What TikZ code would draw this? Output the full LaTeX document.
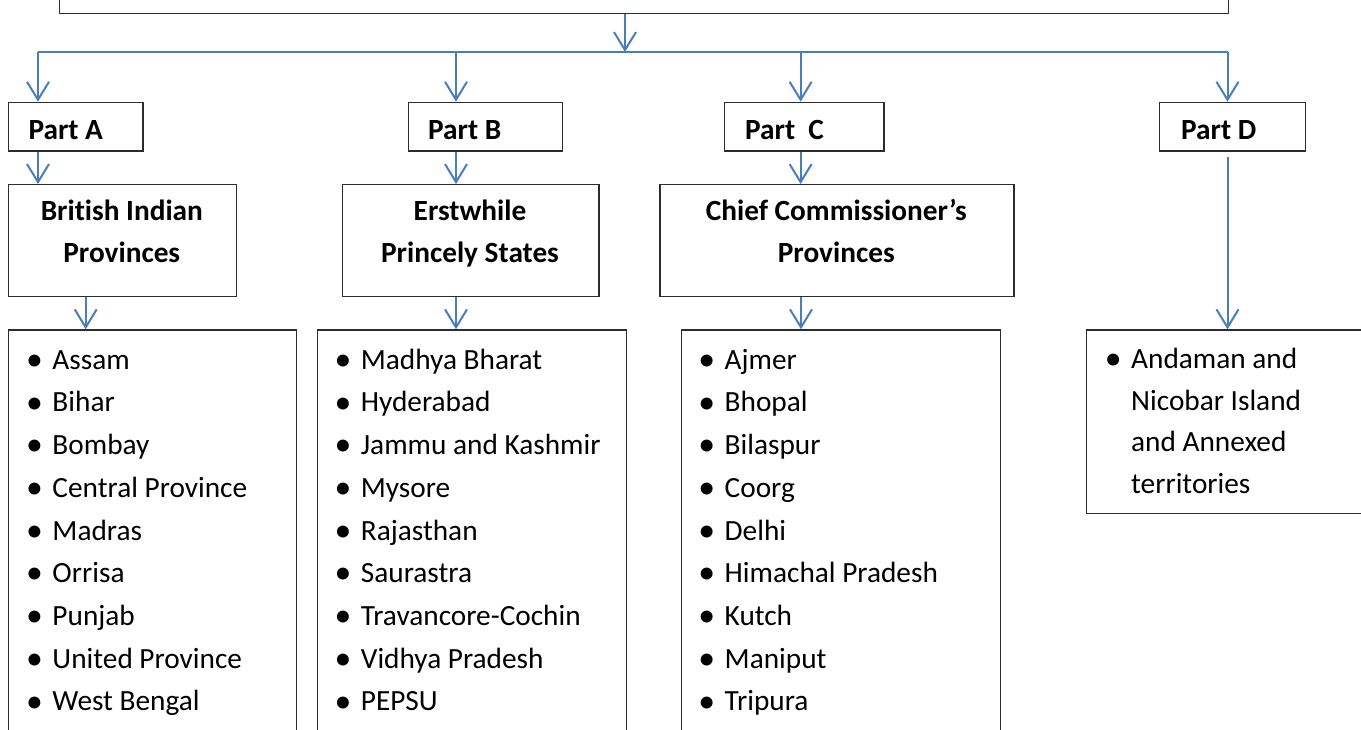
\documentclass[tikz,border=0pt]{standalone}
\usepackage{fontspec}
\usepackage{graphicx}
\setmainfont{Carlito}[Ligatures=NoCommon]
\usetikzlibrary{arrows.meta}

\definecolor{linkblue}{RGB}{74,126,187}
\definecolor{framegray}{RGB}{45,45,45}

% bullet item and continuation line inside a list
\newcommand\bul{\raisebox{-1.2pt}{\scalebox{1.15}{\textbullet}}}
\newcommand\itm[1]{\makebox[18pt][c]{\bul}\hspace{9pt}#1}
\newcommand\itmgo[1]{\hspace{27pt}#1}

\begin{document}
\begin{tikzpicture}[x=1pt,y=-1pt,
  frame/.style={draw=framegray, line width=1.4pt, inner sep=0pt, anchor=north west},
  link/.style={draw=linkblue, line width=2pt,
    -{Straight Barb[length=18pt,width=22pt,line width=2pt]}},
  bus/.style={draw=linkblue, line width=2pt},
  partlbl/.style={inner sep=0pt, anchor=base west,
    font=\fontsize{29.3pt}{34pt}\selectfont\bfseries},
  headlbl/.style={inner sep=0pt, anchor=base,
    font=\fontsize{29.3pt}{41.6pt}\selectfont\bfseries},
  listlbl/.style={inner sep=0pt, anchor=base west,
    font=\fontsize{29.3pt}{42.7pt}\selectfont},
]
\useasboundingbox (0,0) rectangle (1361,730);
\clip (0,0) rectangle (1361,730);

% ---- top box (its upper part lies above the page) ----
\node[frame, minimum width=1168.5pt, minimum height=42.7pt] (top) at (59,-30) {};

% ---- junction points ----
\coordinate (hub) at (625,52);
\coordinate (dA) at (38,52);
\coordinate (dB) at (456,52);
\coordinate (dC) at (800.6,52);
\coordinate (dD) at (1227.5,52);
\coordinate (xA) at (85.7,0);
\coordinate (xB) at (456,0);
\coordinate (xC) at (801,0);

% ---- part boxes ----
\node[frame, minimum width=134.5pt, minimum height=48.6pt] (pa) at (7.8,101.7) {};
\node[frame, minimum width=154pt,   minimum height=48.6pt] (pb) at (407.6,101.7) {};
\node[frame, minimum width=159.4pt, minimum height=48.6pt] (pc) at (723.8,101.7) {};
\node[frame, minimum width=146pt,   minimum height=48.6pt] (pd) at (1158.6,101.7) {};

\node[partlbl] (pat) at (28.3,140) {Part A};
\node[partlbl] (pbt) at (428,140) {Part B};
\node[partlbl] (pct) at (745,140) {Part\ \ C};
\node[partlbl] (pdt) at (1181,140) {Part D};

% ---- heading boxes ----
\node[frame, minimum width=228.5pt, minimum height=111.7pt] (bip) at (7.5,184) {};
\node[frame, minimum width=256.8pt, minimum height=111.7pt] (eps) at (341.6,184) {};
\node[frame, minimum width=354pt,   minimum height=111.7pt] (ccp) at (659.3,184) {};

\node[headlbl] (bipt) at (121.8,220.7)
  {\begin{tabular}[t]{@{}c@{}}British Indian\\Provinces\end{tabular}};
\node[headlbl] (epst) at (470,220.7)
  {\begin{tabular}[t]{@{}c@{}}Erstwhile\\Princely States\end{tabular}};
\node[headlbl] (ccpt) at (836.3,220.7)
  {\begin{tabular}[t]{@{}c@{}}Chief Commissioner’s\\Provinces\end{tabular}};

% ---- list boxes ----
\node[frame, minimum width=288.2pt, minimum height=440pt] (lbi) at (7.5,329.3) {};
\node[frame, minimum width=309pt,   minimum height=440pt] (lps) at (316.7,329.3) {};
\node[frame, minimum width=319pt,   minimum height=440pt] (lcc) at (680.5,329.3) {};
\node[frame, minimum width=300pt,   minimum height=183.4pt] (ldd) at (1086,329.3) {};

\node[listlbl] (lbit) at (25.3,369.3) {\begin{tabular}[t]{@{}l@{}}
  \itm{Assam}\\ \itm{Bihar}\\ \itm{Bombay}\\ \itm{Central Province}\\
  \itm{Madras}\\ \itm{Orrisa}\\ \itm{Punjab}\\ \itm{United Province}\\
  \itm{West Bengal}\end{tabular}};
\node[listlbl] (lpst) at (333.7,369.3) {\begin{tabular}[t]{@{}l@{}}
  \itm{Madhya Bharat}\\ \itm{Hyderabad}\\ \itm{Jammu and Kashmir}\\
  \itm{Mysore}\\ \itm{Rajasthan}\\ \itm{Saurastra}\\ \itm{Travancore-Cochin}\\
  \itm{Vidhya Pradesh}\\ \itm{PEPSU}\end{tabular}};
\node[listlbl] (lcct) at (697.5,369.3) {\begin{tabular}[t]{@{}l@{}}
  \itm{Ajmer}\\ \itm{Bhopal}\\ \itm{Bilaspur}\\ \itm{Coorg}\\ \itm{Delhi}\\
  \itm{Himachal Pradesh}\\ \itm{Kutch}\\ \itm{Maniput}\\ \itm{Tripura}\end{tabular}};
\node[listlbl, font=\fontsize{29.3pt}{41.7pt}\selectfont] (lddt) at (1104,368.3)
  {\begin{tabular}[t]{@{}l@{}}
  \itm{Andaman and}\\ \itmgo{Nicobar Island}\\ \itmgo{and Annexed}\\
  \itmgo{territories}\end{tabular}};

% ---- connectors ----
\draw[link] (top.south -| hub) -- (hub);
\draw[bus] (dA) -- (dD);
\draw[link] (dA) -- (pa.north -| dA);
\draw[link] (dB) -- (pb.north -| dB);
\draw[link] (dC) -- (pc.north -| dC);
\draw[link] (dD) -- (pd.north -| dD);

\draw[link] (pa.south -| dA) -- (bip.north -| dA);
\draw[link] (pb.south -| dB) -- (eps.north -| dB);
\draw[link] (pc.south -| dC) -- (ccp.north -| dC);
\draw[link] ([yshift=-5pt]pd.south -| dD) -- (ldd.north -| dD);

\draw[link] (bip.south -| xA) -- (lbi.north -| xA);
\draw[link] (eps.south -| xB) -- (lps.north -| xB);
\draw[link] (ccp.south -| xC) -- (lcc.north -| xC);
\end{tikzpicture}
\end{document}
